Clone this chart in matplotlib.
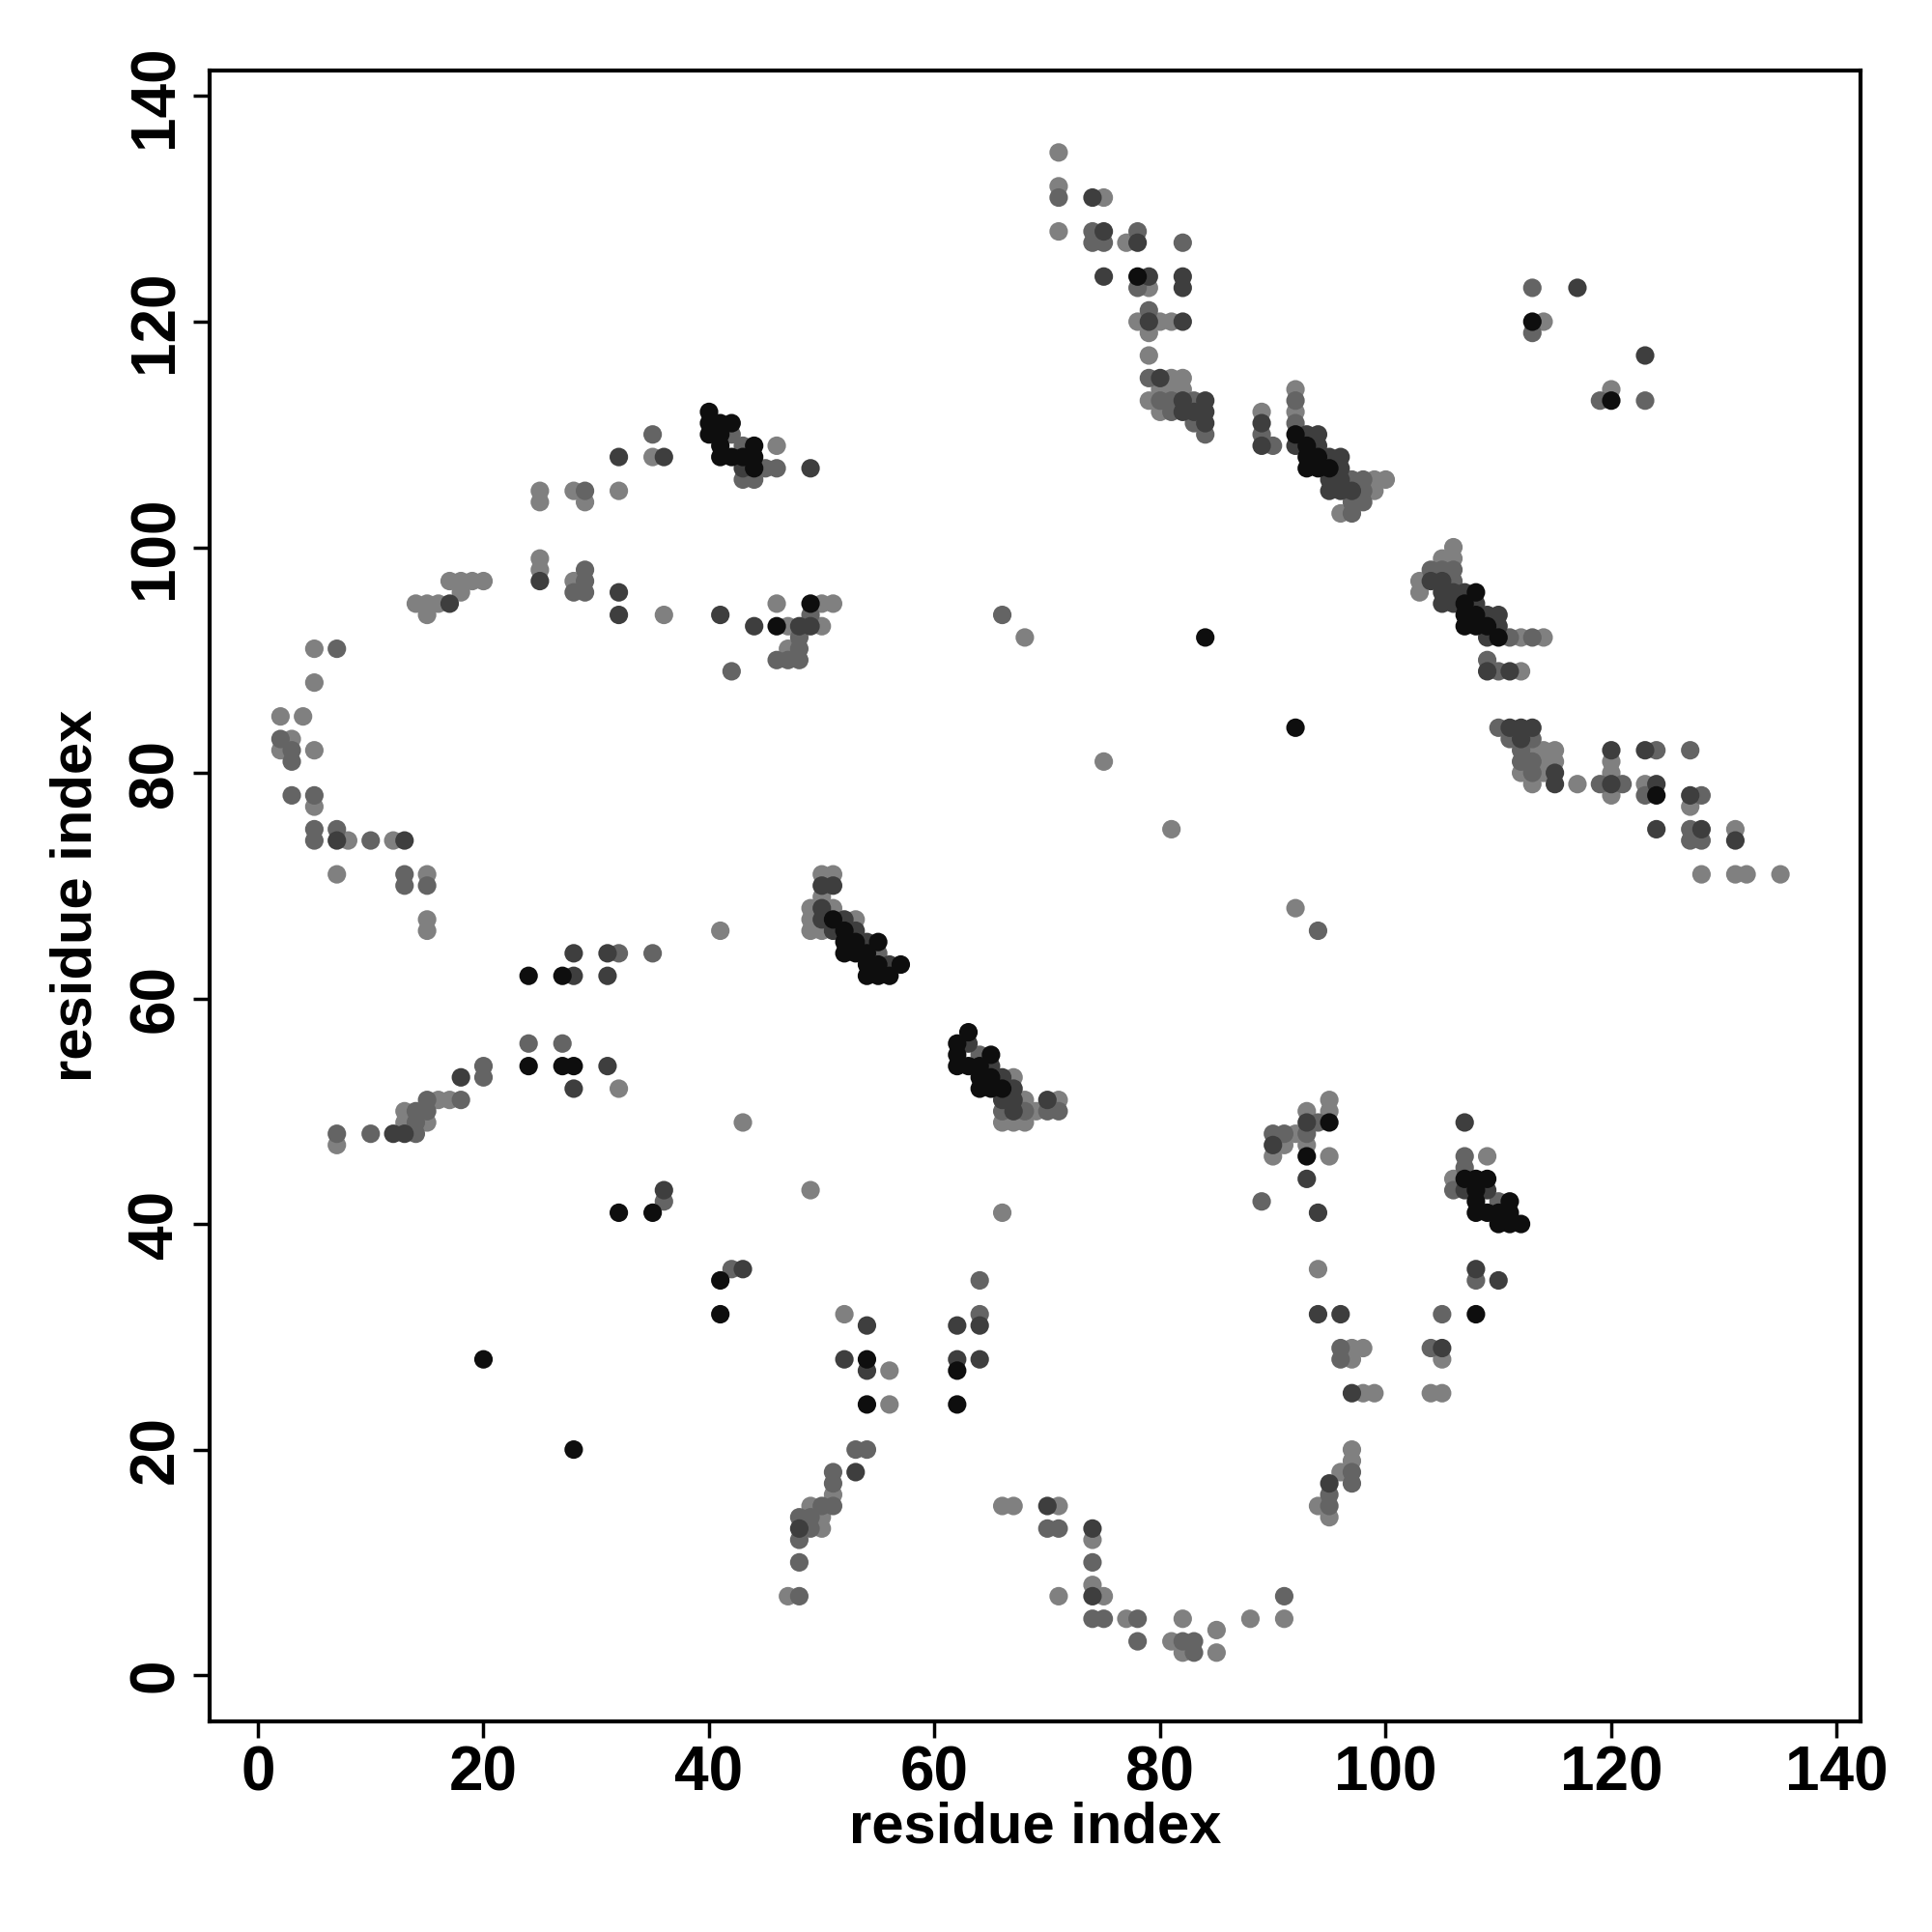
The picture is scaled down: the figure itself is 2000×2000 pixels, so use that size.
import matplotlib
matplotlib.use("Agg")
import matplotlib.pyplot as plt

# residue-pair contacts grouped by contact strength (i, j)
contacts_weak = [
    (5,91),(5,88),(2,85),(4,85),(3,83),(2,82),(5,82),(5,77),(8,74),(12,74),(7,71),(15,71),(15,67),(15,66),
    (14,95),(15,95),(16,95),(15,94),(17,97),(18,97),(19,97),(20,97),(18,96),
    (25,99),(25,98),(28,97),(36,94),(25,105),(25,104),(28,105),(29,104),(32,105),(35,108),
    (46,109),(46,95),(50,95),(51,95),(47,93),(50,93),(47,91),
    (68,92),(75,81),(81,75),(92,68),
    (32,52),(16,51),(17,51),(13,50),(13,49),(15,49),(7,47),
    (41,66),(43,49),(49,43),(66,41),
    (50,71),(51,71),(50,69),(49,68),(51,68),(49,67),(53,67),(49,66),(50,66),
    (67,53),(68,51),(71,51),(69,50),(66,49),(67,49),(68,49),
    (52,32),(56,27),(56,24),(51,16),(49,15),(50,14),(50,13),(47,7),
    (66,15),(67,15),(71,15),(74,12),(74,8),(75,7),(71,7),(77,5),(82,5),(81,3),(82,2),(85,4),(85,2),(88,5),(91,5),
    (95,51),(95,50),(93,50),(92,48),(93,47),(91,47),(90,46),(95,46),(94,36),(97,29),(98,29),(97,28),(98,25),(99,25),
    (97,20),(97,19),(96,18),(95,14),(94,15),
    (109,46),(106,44),(105,28),(104,25),(105,25),
    (71,135),(71,132),(71,128),(75,131),(77,127),(79,123),(78,120),(80,120),(81,120),(79,119),(79,117),
    (81,115),(82,115),(79,113),(80,114),(81,114),(82,114),(80,112),
    (89,112),(92,114),(92,112),(99,106),(100,106),(99,105),(96,103),
    (106,100),(105,99),(106,99),(103,97),(103,96),(112,92),(114,92),(112,89),
    (113,82),(114,82),(115,82),(114,81),(115,81),(112,80),(114,80),(113,79),(117,79),(120,81),(120,80),
    (120,78),(123,79),(127,77),(131,75),(128,71),(131,71),(132,71),(135,71),
    (114,120),(120,114),
]

contacts_medium = [
    (7,91),(2,83),(3,82),(3,81),(3,78),(5,78),(5,75),(5,74),(7,75),(10,74),(13,71),(13,70),(15,70),
    (28,96),(29,98),(29,97),(29,96),(29,105),(35,110),
    (43,106),(44,106),(45,107),(46,107),(43,109),(42,110),
    (49,94),(48,91),(48,92),(46,90),(47,90),(48,90),(42,89),(66,94),(94,66),
    (32,64),(35,64),(24,56),(27,56),
    (20,54),(20,53),(15,51),(18,51),(14,50),(15,50),(14,49),(14,48),(7,48),(10,48),(36,42),
    (55,64),
    (64,55),(66,50),(68,50),(70,50),(71,50),
    (42,36),(64,32),(64,35),
    (53,20),(54,20),(51,18),(51,17),(51,15),(50,15),(48,14),(49,14),(49,13),(48,12),(48,10),(48,7),
    (70,13),(71,13),(74,10),(74,5),(75,5),(78,5),(78,3),(82,3),(83,3),(83,2),(91,7),
    (94,49),(93,48),(90,48),(91,48),(89,42),(96,29),(96,28),(97,18),(97,17),(95,16),(95,15),
    (107,46),(107,45),(106,43),(110,42),(108,35),(105,32),(104,29),
    (71,131),(74,128),(74,127),(75,127),(78,128),(82,127),(78,123),(79,121),(79,115),(80,113),(81,113),
    (83,113),(81,112),(83,111),(84,110),
    (89,110),(90,109),(92,113),(92,111),(97,106),(98,106),(98,105),(97,104),(98,104),(97,103),
    (104,98),(105,98),(106,98),(106,97),(111,92),(113,92),(109,90),(110,89),
    (110,84),(111,83),(113,83),(112,82),(112,81),(113,81),(113,80),(119,79),(121,79),(124,82),(127,82),
    (123,78),(128,78),(127,75),(127,74),(128,74),
    (113,123),(113,119),(119,113),(123,113),
]

contacts_strong = [
    (7,74),(13,74),(17,95),(25,97),(32,96),(32,94),(32,108),(36,108),
    (43,107),(49,107),
    (41,94),(44,93),(48,93),(49,93),
    (28,64),(31,64),(28,62),(31,62),(31,54),(28,52),(18,53),(12,48),(13,48),(36,43),
    (50,70),(51,70),(50,68),(50,67),(52,67),(51,66),(53,66),(54,65),(56,63),
    (63,56),(65,54),(66,53),(67,52),(66,51),(67,51),(70,51),(67,50),
    (43,36),(54,31),(52,28),(54,27),(62,31),(64,31),(62,28),(64,28),(53,18),(48,13),
    (70,15),(74,13),(74,7),
    (93,49),(90,47),(93,44),(94,41),(94,32),(96,32),(97,25),(95,17),
    (107,49),(107,43),(109,43),(108,36),(110,35),(105,29),
    (74,131),(75,128),(78,127),(75,124),(79,124),(82,124),(82,123),(79,120),(82,120),(80,115),(82,113),
    (82,112),(83,112),(84,113),(84,112),(84,111),
    (89,111),(89,109),(92,109),(93,110),(94,110),(94,109),(95,108),(96,108),(96,107),(95,106),(96,106),
    (95,105),(96,105),(97,105),
    (104,97),(105,97),(105,96),(106,96),(107,96),(105,95),(106,95),(108,95),(109,94),(110,94),(110,93),
    (109,92),(109,89),(111,89),
    (111,84),(112,84),(113,84),(112,83),(115,80),(115,79),(120,82),(120,79),(123,82),(124,79),(127,78),
    (124,75),(128,75),(131,74),
    (117,123),(123,117),
]

contacts_very_strong = [
    (24,62),(27,62),(24,54),(27,54),(28,54),(32,41),(35,41),(20,28),(28,20),
    (40,112),(40,111),(41,111),(42,111),(40,110),(41,110),(41,109),(44,109),(41,108),(42,108),(43,108),
    (44,108),(44,107),
    (49,95),(46,93),(84,92),(92,84),
    (51,67),(52,66),(52,65),(53,65),(55,65),(52,64),(53,64),(54,64),(54,63),(55,63),(57,63),(54,62),
    (55,62),(56,62),
    (63,57),(62,56),(62,55),(65,55),(62,54),(63,54),(64,54),(64,53),(65,53),(64,52),(65,52),(66,52),
    (41,35),(41,32),(54,28),(54,24),(62,27),(62,24),
    (95,49),(93,46),
    (107,44),(108,44),(109,44),(108,43),(108,42),(111,42),(108,41),(109,41),(110,41),(111,41),(110,40),
    (111,40),(112,40),(108,32),
    (78,124),(92,110),(93,109),(93,108),(94,108),(93,107),(94,107),(95,107),
    (108,96),(107,95),(107,94),(108,94),(107,93),(108,93),(109,93),(110,92),
    (124,78),(113,120),(120,113),
]

strength_groups = ["weak", "medium", "strong", "very_strong"]
tick_values = [0, 20, 40, 60, 80, 100, 120, 140]
axis_label = "residue index"

groups = {"weak": contacts_weak, "medium": contacts_medium,
          "strong": contacts_strong, "very_strong": contacts_very_strong}
gray_of = {"weak": "#808080", "medium": "#646464", "strong": "#3e3e3e", "very_strong": "#0e0e0e"}

plt.rcParams["font.family"] = ["Liberation Sans", "DejaVu Sans"]
plt.rcParams["font.weight"] = "bold"

fig = plt.figure(figsize=(20, 20), dpi=100)
ax = fig.add_axes([0.1084, 0.109, 0.963 - 0.1084, 0.9637 - 0.109])

for g in strength_groups:
    pts = groups[g]
    xs = [p[0] for p in pts]
    ys = [p[1] for p in pts]
    ax.scatter(xs, ys, s=13.8 ** 2, c=gray_of[g], edgecolors="none", zorder=3)

ax.set_xlim(-4.3, 142.1)
ax.set_ylim(-4.1, 142.3)
ax.set_xticks(tick_values)
ax.set_yticks(tick_values)
ax.set_xticklabels([str(t) for t in tick_values], fontsize=46, fontweight="bold")
ax.set_yticklabels([str(t) for t in tick_values], fontsize=46, fontweight="bold",
                   rotation=90, va="center")
ax.tick_params(axis="both", direction="out", length=12, width=2.5, pad=6)
for sp in ax.spines.values():
    sp.set_linewidth(3)

ax.set_xlabel(axis_label, fontsize=43, fontweight="bold")
ax.set_ylabel(axis_label, fontsize=43, fontweight="bold")
ax.xaxis.label.set_va("center")
ax.yaxis.label.set_va("center")
ax.xaxis.set_label_coords(0.5, -0.0644)
ax.yaxis.set_label_coords(-0.0807, 0.5)

fig.savefig("out.png", dpi=100, facecolor="white")
